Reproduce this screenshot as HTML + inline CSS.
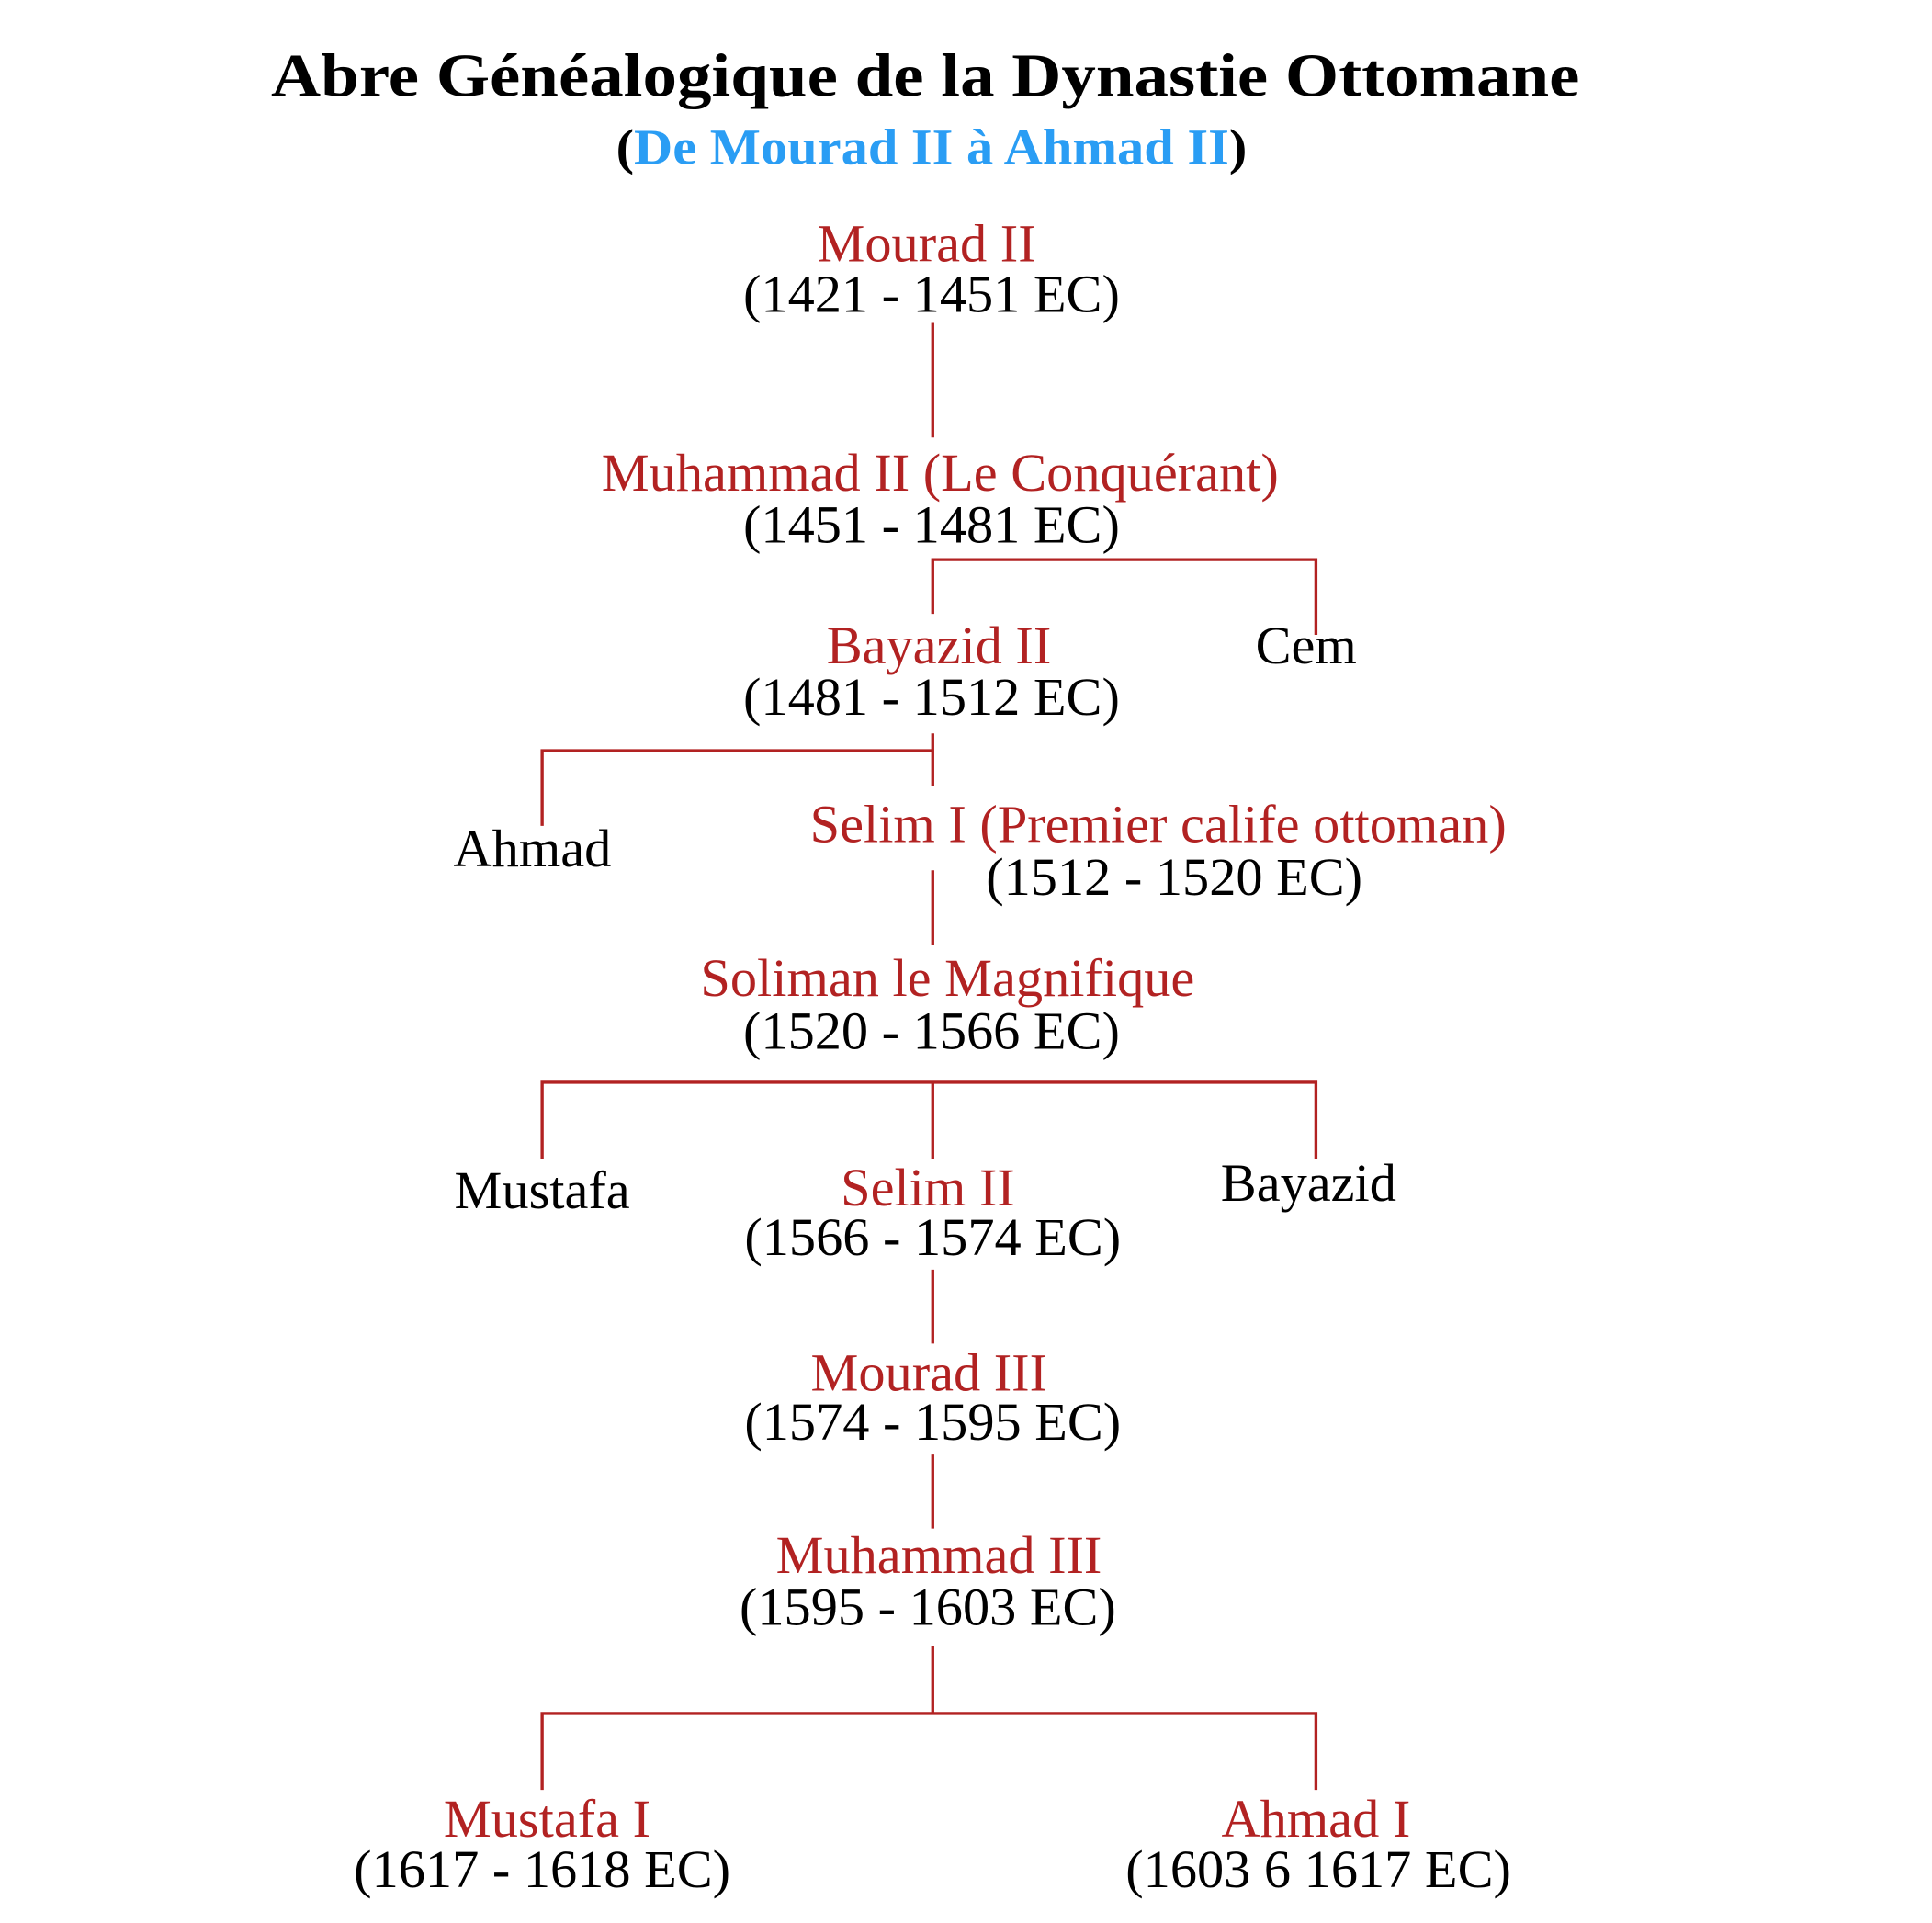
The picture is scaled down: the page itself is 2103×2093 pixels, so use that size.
<!DOCTYPE html>
<html><head><meta charset="utf-8"><style>html,body{margin:0;padding:0;background:#fff}svg{display:block}</style></head>
<body>
<svg width="2103" height="2093" viewBox="0 0 1568 1560" preserveAspectRatio="none" xmlns="http://www.w3.org/2000/svg" font-family="Liberation Serif, serif" text-anchor="middle">
<text x="751" y="78" font-size="50" font-weight="bold" textLength="1062" lengthAdjust="spacingAndGlyphs">Abre Généalogique de la Dynastie Ottomane</text>
<text x="756" y="133" font-size="41" font-weight="bold" textLength="512" lengthAdjust="spacingAndGlyphs">(<tspan fill="#2a9df4">De Mourad II à Ahmad II</tspan>)</text>
<g stroke="#b22222" stroke-width="2.5" fill="none">
<path d="M757 262V355"/>
<path d="M757 498V454H1068V515"/>
<path d="M440 670V609H757M757 595V638"/>
<path d="M757 706V767"/>
<path d="M440 940V878H1068V940M757 878V940"/>
<path d="M757 1030V1090"/>
<path d="M757 1180V1240"/>
<path d="M757 1335V1390M440 1452V1390H1068V1452"/>
</g>
<g font-size="43.5">
<g fill="#b22222">
<text x="752" y="212">Mourad II</text>
<text x="763" y="398">Muhammad II (Le Conquérant)</text>
<text x="762" y="538">Bayazid II</text>
<text x="940" y="683">Selim I (Premier calife ottoman)</text>
<text x="769" y="808">Soliman le Magnifique</text>
<text x="753" y="978">Selim II</text>
<text x="754" y="1128">Mourad III</text>
<text x="762" y="1276">Muhammad III</text>
<text x="444" y="1490">Mustafa I</text>
<text x="1068" y="1490">Ahmad I</text>
</g>
<text x="756" y="253">(1421 - 1451 EC)</text>
<text x="756" y="440">(1451 - 1481 EC)</text>
<text x="756" y="580">(1481 - 1512 EC)</text>
<text x="1060" y="538">Cem</text>
<text x="432" y="703">Ahmad</text>
<text x="953" y="726">(1512 - 1520 EC)</text>
<text x="756" y="851">(1520 - 1566 EC)</text>
<text x="440" y="980">Mustafa</text>
<text x="757" y="1018">(1566 - 1574 EC)</text>
<text x="1062" y="974">Bayazid</text>
<text x="757" y="1168">(1574 - 1595 EC)</text>
<text x="753" y="1318">(1595 - 1603 EC)</text>
<text x="440" y="1531">(1617 - 1618 EC)</text>
<text x="1070" y="1531">(1603 6 1617 EC)</text>
</g>
</svg>
</body></html>
